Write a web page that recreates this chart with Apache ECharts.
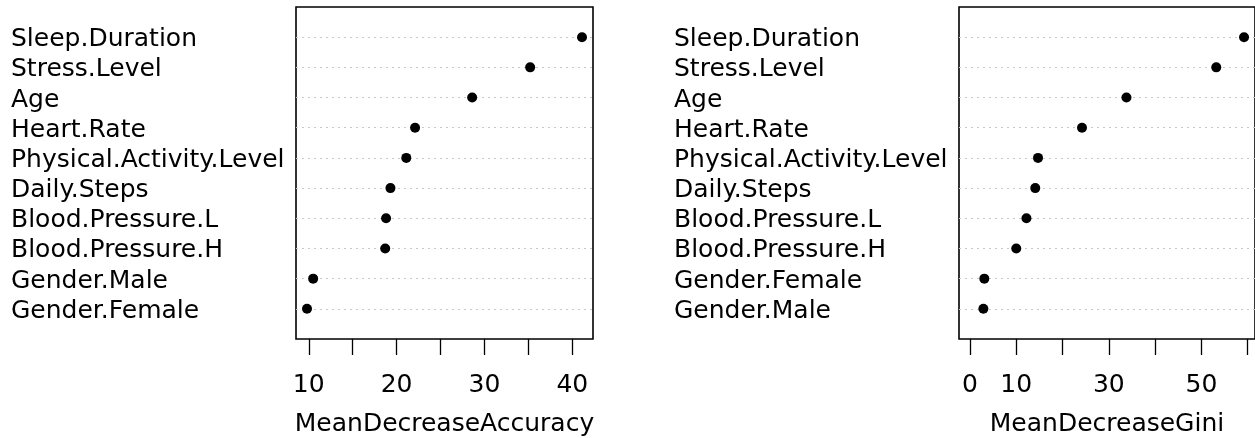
<!DOCTYPE html>
<html>
<head>
	<meta charset="utf-8">
	<title>varImpPlot</title>
	<script src="https://cdn.jsdelivr.net/npm/echarts@6/dist/echarts.min.js"></script>
	<style type="text/css">
		* {
			margin: 0;
			padding: 0;
		}

		body {
			background: #fff;
			overflow: hidden;
		}
	</style>
</head>
<body>
<div id="main" style="width:1255px;height:438px;"></div>
</body>
<script type="text/javascript">
    // 从上到下的顺序（与原图一致）
    var accNames = ['Sleep.Duration', 'Stress.Level', 'Age', 'Heart.Rate', 'Physical.Activity.Level',
        'Daily.Steps', 'Blood.Pressure.L', 'Blood.Pressure.H', 'Gender.Male', 'Gender.Female'];
    var accValues = [41.1, 35.2, 28.6, 22.1, 21.1, 19.3, 18.8, 18.7, 10.5, 9.8];

    var giniNames = ['Sleep.Duration', 'Stress.Level', 'Age', 'Heart.Rate', 'Physical.Activity.Level',
        'Daily.Steps', 'Blood.Pressure.L', 'Blood.Pressure.H', 'Gender.Female', 'Gender.Male'];
    var giniValues = [59.2, 53.2, 33.8, 24.2, 14.7, 14.1, 12.2, 10.0, 3.1, 2.9];

    var accTicks = [10, 15, 20, 25, 30, 35, 40];
    var accTickLabels = [10, 20, 30, 40];
    var giniTicks = [0, 10, 20, 30, 40, 50, 60];
    var giniTickLabels = [0, 10, 30, 50];

    var font = 'DejaVu Sans';
    var fs = 25;

    // category axis goes bottom -> top, pad with empty rows like dotchart's ylim c(0, n+1)
    function cats(names) {
        return [''].concat(names.slice().reverse(), ['']);
    }
    function vals(v) {
        return ['-'].concat(v.slice().reverse(), ['-']);
    }
    // R style range with 4% padding
    function xlim(v, zero) {
        var lo = zero ? 0 : Math.min.apply(null, v);
        var hi = Math.max.apply(null, v);
        var pad = (hi - lo) * 0.04;
        return [lo - pad, hi + pad];
    }

    function xAxisOf(idx, lim, ticks, labels, name) {
        return {
            gridIndex: idx,
            type: 'value',
            min: lim[0],
            max: lim[1],
            name: name,
            nameLocation: 'middle',
            nameGap: 73,
            nameTextStyle: {color: '#000', fontSize: fs, fontFamily: font},
            axisLine: {show: false},
            splitLine: {show: false},
            axisTick: {
                show: true,
                inside: false,
                length: 16,
                customValues: ticks,
                lineStyle: {color: '#000', width: 1.3}
            },
            axisLabel: {
                customValues: labels,
                margin: 34,
                color: '#000',
                fontSize: fs,
                fontFamily: font
            }
        };
    }

    function yAxisOf(idx, names) {
        var n = names.length;
        return {
            gridIndex: idx,
            type: 'category',
            boundaryGap: false,
            data: cats(names),
            axisLine: {show: false},
            axisTick: {show: false},
            axisLabel: {
                interval: 0,
                align: 'left',
                // thin line box hung below the tick -> text sits ~3px lower, like R
                verticalAlign: 'top',
                lineHeight: 5,
                margin: 285,
                color: '#000',
                fontSize: fs,
                fontFamily: font
            },
            splitLine: {
                show: true,
                // no dotted line on the two padding rows (they sit on the box)
                interval: function (i) {
                    return i > 0 && i <= n;
                },
                lineStyle: {color: '#c8c8c8', width: 1, type: [2, 4]}
            }
        };
    }

    var myChart = echarts.init(document.getElementById('main'), null, {renderer: 'canvas'});
    var option = {
        backgroundColor: '#fff',
        animation: false,
        grid: [
            {left: 296, top: 7, width: 297, height: 332, outerBoundsMode: 'none', containLabel: false,
                show: true, borderColor: '#000', borderWidth: 1.6, backgroundColor: 'transparent'},
            {left: 959, top: 7, width: 296, height: 332, outerBoundsMode: 'none', containLabel: false,
                show: true, borderColor: '#000', borderWidth: 1.6, backgroundColor: 'transparent'}
        ],
        xAxis: [
            xAxisOf(0, xlim(accValues, false), accTicks, accTickLabels, 'MeanDecreaseAccuracy'),
            xAxisOf(1, xlim(giniValues, true), giniTicks, giniTickLabels, 'MeanDecreaseGini')
        ],
        yAxis: [
            yAxisOf(0, accNames),
            yAxisOf(1, giniNames)
        ],
        series: [
            {
                name: 'MeanDecreaseAccuracy',
                type: 'scatter',
                xAxisIndex: 0,
                yAxisIndex: 0,
                symbol: 'circle',
                symbolSize: 10,
                itemStyle: {color: '#000', opacity: 1},
                data: vals(accValues)
            },
            {
                name: 'MeanDecreaseGini',
                type: 'scatter',
                xAxisIndex: 1,
                yAxisIndex: 1,
                symbol: 'circle',
                symbolSize: 10,
                itemStyle: {color: '#000', opacity: 1},
                data: vals(giniValues)
            }
        ]
    };
    myChart.setOption(option);
</script>
</html>
